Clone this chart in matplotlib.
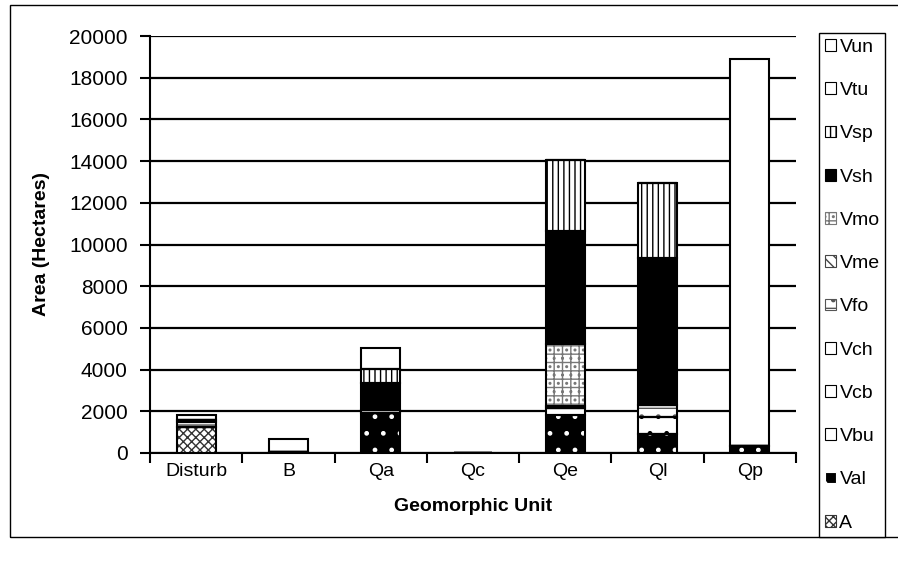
import matplotlib.pyplot as plt
from matplotlib.patches import Rectangle
import numpy as np

plt.rcParams['font.family'] = ['Liberation Sans', 'DejaVu Sans']
plt.rcParams['hatch.linewidth'] = 1.0

units = ['Disturb', 'B', 'Qa', 'Qc', 'Qe', 'Ql', 'Qp']

A = [1250, 0, 0, 0, 0, 0, 0]
Val = [0, 50, 1900, 0, 1800, 900, 350]
Vbu = [0, 0, 150, 0, 350, 0, 0]
Vcb = [0, 0, 0, 0, 0, 820, 0]
Vch = [0, 0, 0, 0, 0, 0, 0]
Vfo = [250, 0, 0, 0, 0, 570, 0]
Vme = [100, 0, 0, 0, 100, 0, 0]
Vmo = [0, 0, 0, 0, 3000, 0, 0]
Vsh = [0, 0, 1300, 0, 5400, 7050, 0]
Vsp = [0, 0, 700, 0, 3400, 3600, 0]
Vtu = [0, 0, 0, 0, 0, 0, 0]
Vun = [200, 620, 1000, 0, 0, 0, 18550]

# name, values, face, hatch, hatch colour
series = [
    ('A', A, 'white', 'xxxx', '#333333'),
    ('Val', Val, 'black', '.', 'white'),
    ('Vbu', Vbu, 'white', None, 'black'),
    ('Vcb', Vcb, 'white', '.', 'black'),
    ('Vch', Vch, 'white', None, 'black'),
    ('Vfo', Vfo, 'white', '-.', '#555555'),
    ('Vme', Vme, 'white', '\\\\\\', '#444444'),
    ('Vmo', Vmo, 'white', '++..', '#777777'),
    ('Vsh', Vsh, 'black', None, 'black'),
    ('Vsp', Vsp, 'white', '|||', 'black'),
    ('Vtu', Vtu, 'white', None, 'black'),
    ('Vun', Vun, 'white', None, 'black'),
]


def do_plot():
    fig = plt.figure(figsize=(8.98, 5.67), dpi=100)
    ax = fig.add_axes([150 / 898, 1 - 453 / 567, 646 / 898, 417 / 567])
    x = np.arange(len(units))
    bottom = np.zeros(len(units))
    handles = []
    for name, vals, face, hatch, hc in series:
        vals = np.array(vals, dtype=float)
        ax.bar(x, vals, 0.42, bottom=bottom, color=face, hatch=hatch,
               edgecolor=hc, linewidth=0, zorder=3)
        ax.bar(x, vals, 0.42, bottom=bottom, fill=False,
               edgecolor='black', linewidth=1.5, zorder=4)
        handles.append(Rectangle((0, 0), 1, 1, facecolor=face, hatch=hatch,
                                 edgecolor=hc, linewidth=0.8, label=name))
        bottom += vals

    ax.set_xlim(-0.5, len(units) - 0.5)
    ax.set_ylim(0, 20000)
    ax.set_yticks(np.arange(0, 20001, 2000))
    ax.set_xticks(x)
    ax.set_xticklabels(units, fontsize=14)
    ax.set_xticks(np.arange(-0.5, len(units), 1), minor=True)
    ax.tick_params(axis='x', which='major', length=0, pad=7)
    ax.tick_params(axis='x', which='minor', length=7, width=1.5, direction='out')
    ax.tick_params(axis='y', length=7, width=1.5, direction='out', labelsize=15, pad=9)
    ax.grid(axis='y', color='black', linewidth=1.6, zorder=1)
    for s in ['top', 'right']:
        ax.spines[s].set_visible(False)
    ax.spines['left'].set_linewidth(1.5)
    ax.spines['bottom'].set_linewidth(1.5)
    ax.set_ylabel('Area (Hectares)', fontsize=14, fontweight='bold', labelpad=14)
    ax.set_xlabel('Geomorphic Unit', fontsize=14, fontweight='bold', labelpad=13)

    leg = fig.legend(handles=handles[::-1], loc='upper left',
                     bbox_to_anchor=(819 / 898, 1 - 33 / 567), borderaxespad=0,
                     fontsize=14, handlelength=0.55, handleheight=0.55,
                     handletextpad=0.2, labelspacing=1.35, fancybox=False,
                     edgecolor='black', framealpha=1, borderpad=0.3)
    leg.get_frame().set_linewidth(1.0)

    fig.patches.append(Rectangle((10 / 898, 1 - 537 / 567), 1.2, 532 / 567,
                                 transform=fig.transFigure, fill=False,
                                 edgecolor='black', linewidth=1.0))
    fig.savefig('out.png', dpi=100)


if __name__ == '__main__':
    do_plot()
